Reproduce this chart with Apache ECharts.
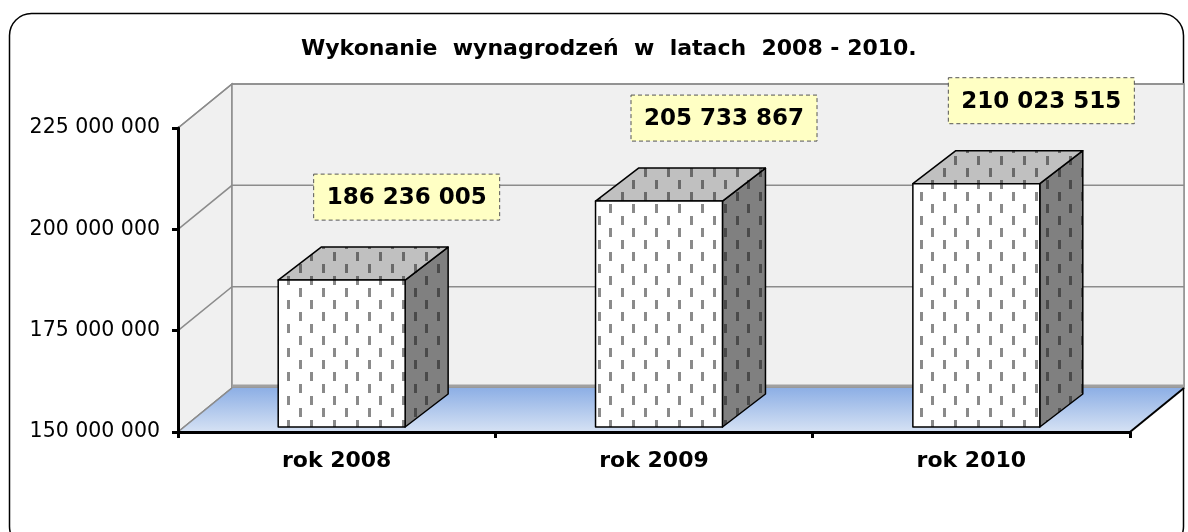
<!DOCTYPE html>
<html>
<head>
<meta charset="utf-8">
<script src="https://cdn.jsdelivr.net/npm/echarts@6/dist/echarts.min.js"></script>
<style>
  html, body { margin: 0; padding: 0; background: #ffffff; }
  #chart { width: 1188px; height: 532px; }
</style>
</head>
<body>
<div id="chart"></div>
<script>
// Payroll execution per year
const categories = ['rok 2008', 'rok 2009', 'rok 2010'];
const payroll = [186236005, 205733867, 210023515];
const yTicks = [150000000, 175000000, 200000000, 225000000];
const yMin = 150000000;
const yMax = 225000000;
const yStep = 25000000;

const FONT = '"DejaVu Sans", Verdana, sans-serif';
// perspective offsets (px): whole plot depth, bar front face, bar back face
const WALL = [54, -44];
const BAR_FRONT = [5, -5];
const BAR_BACK = [48, -38];

function groupDigits(v) {
  return String(Math.round(v)).replace(/\B(?=(\d{3})+(?!\d))/g, ' ');
}

// vertical-dash hatch used on the columns
function makePattern(bg, ink) {
  const c = document.createElement('canvas');
  c.width = 23; c.height = 24;
  const g = c.getContext('2d');
  g.fillStyle = bg; g.fillRect(0, 0, 23, 24);
  g.fillStyle = ink;
  g.fillRect(0, 0, 3, 9);
  g.fillRect(11, 12, 3, 9);
  return { image: c, repeat: 'repeat' };
}
const frontFill = makePattern('#ffffff', '#8a8a8a');
const topFill = makePattern('#c0c0c0', '#6a6a6a');
const sideFill = makePattern('#808080', '#4a4a4a');

const chart = echarts.init(document.getElementById('chart'), null, { renderer: 'canvas' });

function renderWalls(params, api) {
  const cs = params.coordSys;
  const x = cs.x, y = cs.y, w = cs.width, h = cs.height;
  const dx = WALL[0], dy = WALL[1];
  const wallStyle = { fill: '#f0f0f0', stroke: '#8c8c8c', lineWidth: 1.5 };
  const children = [];
  children.push({ type: 'polygon', shape: { points: [[x, y], [x + dx, y + dy], [x + dx, y + h + dy], [x, y + h]] }, style: wallStyle });
  children.push({ type: 'rect', shape: { x: x + dx, y: y + dy, width: w, height: h }, style: wallStyle });
  yTicks.forEach(function (v) {
    const yy = api.coord([0, v])[1];
    children.push({ type: 'polyline', shape: { points: [[x, yy], [x + dx, yy + dy], [x + dx + w, yy + dy]] }, style: { fill: null, stroke: '#8c8c8c', lineWidth: 1.5 } });
  });
  // wall base strip
  children.push({ type: 'line', shape: { x1: x + dx, y1: y + h + dy - 2, x2: x + dx + w, y2: y + h + dy - 2 }, style: { stroke: '#a0a0a0', lineWidth: 3 } });
  // floor
  children.push({
    type: 'polygon',
    shape: { points: [[x, y + h], [x + w, y + h], [x + w + dx, y + h + dy], [x + dx, y + h + dy]] },
    style: {
      fill: new echarts.graphic.LinearGradient(0, 0, 0, 1, [
        { offset: 0, color: '#8dafe5' },
        { offset: 1, color: '#d6e2f4' }
      ])
    }
  });
  children.push({ type: 'line', shape: { x1: x, y1: y + h, x2: x + dx, y2: y + h + dy }, style: { stroke: '#8c8c8c', lineWidth: 1.5 } });
  children.push({ type: 'line', shape: { x1: x + w, y1: y + h, x2: x + w + dx, y2: y + h + dy }, style: { stroke: '#000', lineWidth: 2 } });
  return { type: 'group', children: children };
}

function renderColumn(params, api) {
  const i = api.value(0);
  const v = api.value(1);
  const base = api.coord([i, yMin]);
  const top = api.coord([i, v]);
  const half = api.size([1, 0])[0] * 0.2;
  const x0 = base[0] - half + BAR_FRONT[0];
  const x1 = base[0] + half + BAR_FRONT[0];
  const yb = base[1] + BAR_FRONT[1];
  const yt = top[1] + BAR_FRONT[1];
  const ddx = BAR_BACK[0] - BAR_FRONT[0];
  const ddy = BAR_BACK[1] - BAR_FRONT[1];
  const edge = { stroke: '#000', lineWidth: 1.5, lineJoin: 'round' };
  const cx = (x0 + x1) / 2 + 65;
  const cy = yt - 83;
  return {
    type: 'group',
    children: [
      { type: 'polygon', shape: { points: [[x1, yt], [x1 + ddx, yt + ddy], [x1 + ddx, yb + ddy], [x1, yb]] }, style: Object.assign({ fill: sideFill }, edge) },
      { type: 'polygon', shape: { points: [[x0, yt], [x1, yt], [x1 + ddx, yt + ddy], [x0 + ddx, yt + ddy]] }, style: Object.assign({ fill: topFill }, edge) },
      { type: 'rect', shape: { x: x0, y: yt, width: x1 - x0, height: yb - yt }, style: Object.assign({ fill: frontFill }, edge) },
      { type: 'rect', shape: { x: cx - 93, y: cy - 23, width: 186, height: 46 }, style: { fill: '#ffffc4', stroke: '#555555', lineWidth: 1, lineDash: [4, 3] } },
      { type: 'text', style: { text: groupDigits(v), x: cx, y: cy + 1, align: 'center', verticalAlign: 'middle', font: 'bold 23px ' + FONT, fill: '#000' } }
    ]
  };
}

chart.setOption({
  animation: false,
  backgroundColor: '#ffffff',
  title: {
    text: 'Wykonanie  wynagrodzeń  w  latach  2008 - 2010.',
    left: 296,
    top: 33,
    textStyle: { fontFamily: FONT, fontWeight: 'bold', fontSize: 22, color: '#000' }
  },
  graphic: [{
    type: 'rect',
    shape: { x: 9.5, y: 13.5, width: 1174, height: 535, r: 22 },
    style: { fill: null, stroke: '#000', lineWidth: 1.5 },
    z: 0
  }],
  grid: { left: 178, right: 58, top: 128, bottom: 100, containLabel: false },
  xAxis: {
    type: 'category',
    data: categories,
    z: 5,
    axisLine: { lineStyle: { color: '#000', width: 3 } },
    axisTick: { show: true, length: 6, lineStyle: { color: '#000', width: 3 } },
    axisLabel: { fontFamily: FONT, fontWeight: 'bold', fontSize: 22, color: '#000', margin: 18 },
    splitLine: { show: false }
  },
  yAxis: {
    type: 'value',
    min: yMin,
    max: yMax,
    interval: yStep,
    z: 5,
    axisLine: { show: true, lineStyle: { color: '#000', width: 3 } },
    axisTick: { show: true, length: 6, lineStyle: { color: '#000', width: 3 } },
    axisLabel: { fontFamily: FONT, fontSize: 20.5, color: '#000', margin: 18, formatter: groupDigits },
    splitLine: { show: false }
  },
  series: [
    { type: 'custom', z: 1, silent: true, data: [[0, yMin]], encode: { x: 0, y: 1 }, renderItem: renderWalls },
    { type: 'custom', z: 3, silent: true, data: payroll.map(function (v, i) { return [i, v]; }), encode: { x: 0, y: 1 }, renderItem: renderColumn }
  ]
});
</script>
</body>
</html>
